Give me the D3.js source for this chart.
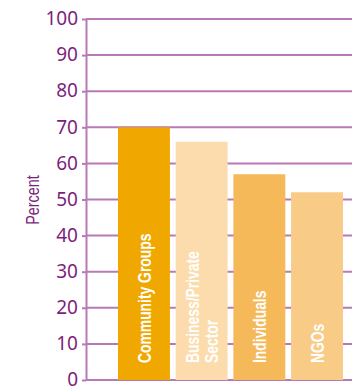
<!DOCTYPE html>
<html>
<head>
<meta charset="utf-8">
<script src="https://cdn.jsdelivr.net/npm/d3@7"></script>
<style>
  body { margin: 0; background: #fff; }
  .tick text { font-family: "Noto Sans", sans-serif; fill: #7d1f7c; }
  .barlabel { font-family: "Liberation Sans", sans-serif; font-weight: bold; fill: #fff; }
</style>
</head>
<body>
<div id="vis"></div>
<script>
var categories = ['Community Groups', 'Business/Private|Sector', 'Individuals', 'NGOs'];
var values = [70, 66, 57, 52];
var colors = ['#f0a800', '#fcdcac', '#f5b95a', '#f8cb86'];
var ticks = [0, 10, 20, 30, 40, 50, 60, 70, 80, 90, 100];

var margin = { left: 86, top: 19, right: 0, bottom: 6 };
var width = 352, height = 386;
var drawWidth = width - margin.left - margin.right;
var drawHeight = height - margin.top - margin.bottom;

var svg = d3.select('#vis').append('svg')
    .attr('width', width)
    .attr('height', height);

var g = svg.append('g')
    .attr('transform', 'translate(' + margin.left + ',' + margin.top + ')');

var xScale = d3.scaleBand()
    .domain(categories)
    .range([32, 257])
    .paddingInner(0.1)
    .paddingOuter(0);

var yScale = d3.scaleLinear()
    .domain([0, 100])
    .range([drawHeight, 0]);

// gridlines
g.selectAll('.grid').data(ticks).enter().append('line')
    .attr('class', 'grid')
    .attr('x1', 0)
    .attr('x2', drawWidth)
    .attr('y1', function(d) { return yScale(d); })
    .attr('y2', function(d) { return yScale(d); })
    .attr('stroke', '#b77ab7')
    .attr('stroke-width', 2);

var yAxis = d3.axisLeft(yScale).tickValues(ticks).tickSizeInner(4).tickSizeOuter(0).tickPadding(4);
var yAxisG = g.append('g').call(yAxis);
yAxisG.select('.domain').attr('stroke', '#b77ab7').attr('stroke-width', 2);
yAxisG.selectAll('.tick line').attr('stroke', '#b77ab7').attr('stroke-width', 2);
yAxisG.selectAll('text').attr('font-size', 19).attr('dy', '0.3em');

g.selectAll('rect').data(values).enter().append('rect')
    .attr('x', function(d, i) { return xScale(categories[i]); })
    .attr('y', function(d) { return yScale(d); })
    .attr('width', xScale.bandwidth())
    .attr('height', function(d) { return drawHeight - yScale(d); })
    .attr('fill', function(d, i) { return colors[i]; });

// labels inside bars, condensed
categories.forEach(function(c, i) {
    var lines = c.split('|');
    var cx = xScale(c) + xScale.bandwidth() / 2;
    var t = g.append('text')
        .attr('class', 'barlabel')
        .attr('font-size', 19)
        .attr('text-anchor', 'start')
        .attr('transform', 'translate(' + cx + ',' + (drawHeight - 17) + ') rotate(-90) scale(0.73,1)');
    lines.forEach(function(l, j) {
        var off = (j - (lines.length - 1) / 2) * 19 + 7;
        t.append('tspan').attr('x', 0).attr('y', off).text(l);
    });
});

g.append('text')
    .attr('transform', 'translate(' + (39 - margin.left) + ',' + (200 - margin.top) + ') rotate(-90) scale(0.8,1)')
    .attr('text-anchor', 'middle')
    .attr('font-family', '"Liberation Sans", sans-serif')
    .attr('font-size', 18)
    .attr('fill', '#7d1f7c')
    .text('Percent');
</script>
</body>
</html>
